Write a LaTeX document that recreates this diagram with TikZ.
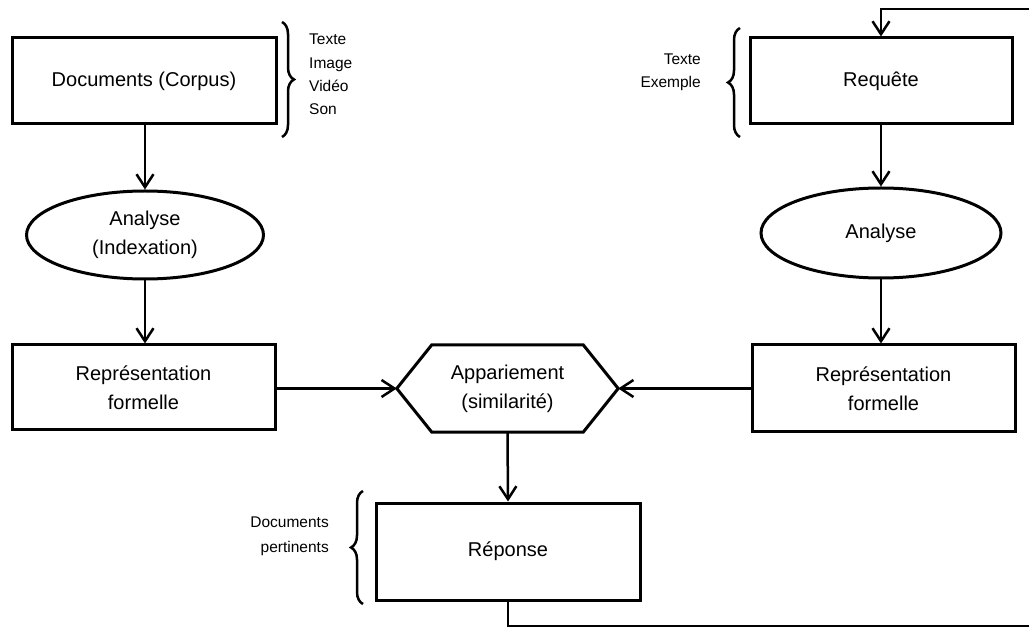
\documentclass[tikz,border=0pt]{standalone}
\usepackage{fontspec}
\setmainfont{Liberation Sans}
\usetikzlibrary{arrows.meta,shapes.geometric,decorations.pathreplacing}
\begin{document}
\begin{tikzpicture}[x=1pt,y=-1pt,
  box/.style={draw,line width=3pt,minimum width=263pt,minimum height=86pt,
    inner sep=0pt,align=center,font=\fontsize{20}{29}\selectfont},
  oval/.style={draw,ellipse,line width=3pt,inner sep=0pt,align=center,
    font=\fontsize{20}{29}\selectfont},
  flow/.style={line width=2.5pt,-{Straight Barb[length=13pt,width=17pt,line width=2.5pt]}},
  plain/.style={line width=2.5pt},
  side/.style={inner sep=0pt,font=\fontsize{15.5}{23.3}\selectfont},
  curly/.style={decorate,decoration={brace,amplitude=12pt},line width=2.5pt}]
\useasboundingbox (0,0) rectangle (1029,628);

% document side
\node[box,minimum width=264pt] (docs) at (144,81) {Documents (Corpus)};
\node[oval,minimum width=237pt,minimum height=88pt] (ana1) at (145,235) {Analyse\\(Indexation)};
\node[box,minimum height=85pt] (rep1) at (143.5,387.5) {Représentation\\formelle};

% query side
\node[box,minimum width=262pt] (req) at (881,81) {Requête};
\node[oval,minimum width=240pt,minimum height=90pt] (ana2) at (881,233) {Analyse};
\node[box,minimum height=87pt] (rep2) at (883.5,388.5) {Représentation\\formelle};

% matching step (hexagon drawn around an invisible node)
\node[minimum width=151pt,minimum height=87pt,inner sep=0pt,align=center,
  font=\fontsize{20}{29}\selectfont] (app) at (507.5,388.5) {Appariement\\(similarité)};
\coordinate (appL) at ([xshift=-35pt]app.west);
\coordinate (appR) at ([xshift=35pt]app.east);
\draw[line width=3pt,line join=miter] (appL) -- (app.north west) -- (app.north east)
  -- (appR) -- (app.south east) -- (app.south west) -- cycle;

% answer
\node[box,minimum width=264pt,minimum height=97pt] (resp) at (508,551.5) {Réponse};

% side notes with braces
\coordinate (b1t) at (282,22);
\coordinate (b1b) at (282,137);
\draw[curly] (b1t) -- (b1b);
\node[side,anchor=north west,align=left] (types) at (309,34) {Texte\\Image\\Vidéo\\Son};

\coordinate (b2t) at (740,28);
\coordinate (b2b) at (740,137);
\draw[curly] (b2b) -- (b2t);
\node[side,anchor=north east,align=right] (qtypes) at (701,53.5) {Texte\\Exemple};

\coordinate (b3t) at (363,491);
\coordinate (b3b) at (363,604);
\draw[curly] (b3b) -- (b3t);
\node[side,anchor=north east,align=right,font=\fontsize{15.5}{24.5}\selectfont] (pert) at (329,517) {Documents\\pertinents};

% connectors
\draw[flow] (docs.south -| ana1.north) -- (ana1.north);
\draw[flow] (ana1.south) -- (ana1.south |- rep1.north);
\draw[flow] (req) -- (ana2);
\draw[flow] (ana2) -- (ana2.south |- rep2.north);
\draw[flow] (rep1.east |- appL) -- (appL);
\draw[flow] (rep2.west |- appR) -- (appR);
\draw[flow] (app.south) -- (resp.north);

% feedback loop from the answer back to the query
\coordinate (lowR) at (1040,626);
\coordinate (topR) at (1040,9);
\draw[plain] (resp.south) -- (resp.south |- lowR) -- (lowR);
\draw[flow] (topR) -- (req.north |- topR) -- (req.north);
\end{tikzpicture}
\end{document}
